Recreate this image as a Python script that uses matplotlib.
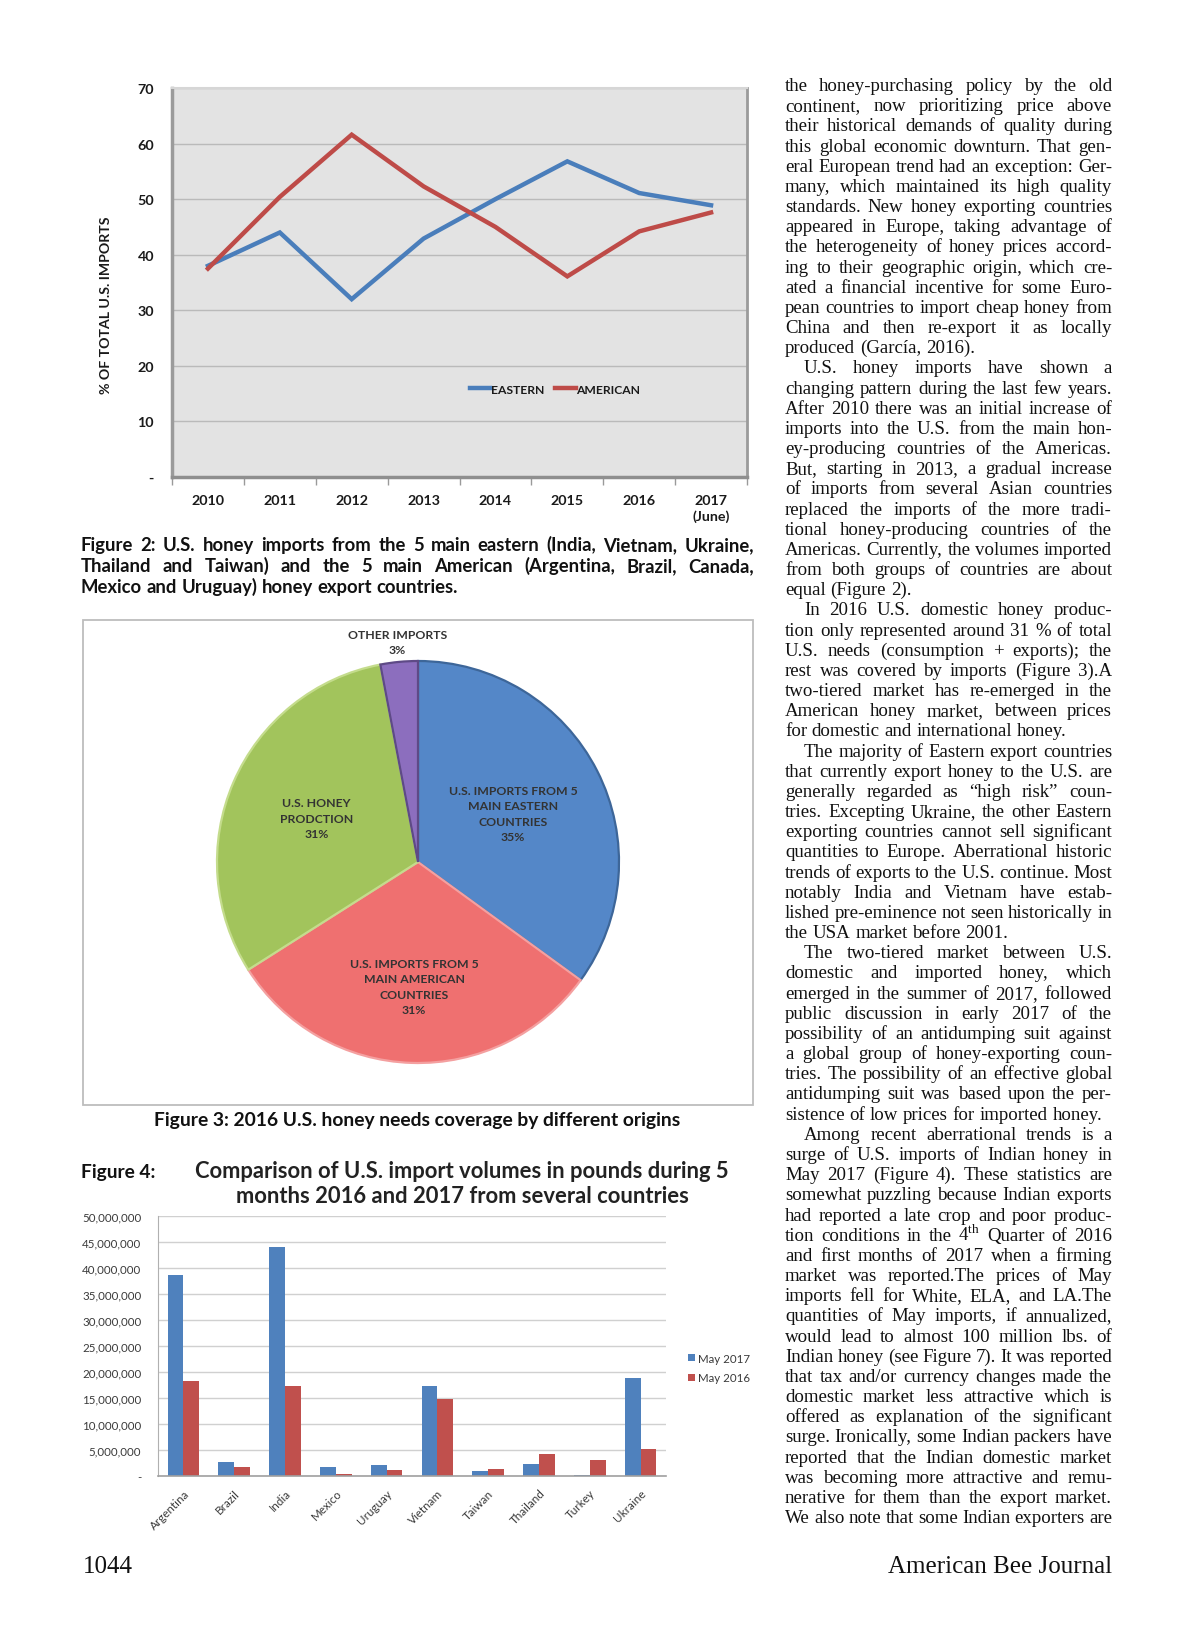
import matplotlib
matplotlib.use('Agg')
import matplotlib.pyplot as plt
from matplotlib.patches import Rectangle
from matplotlib.ticker import FixedLocator, FuncFormatter
import numpy as np

W, H = 1200, 1631

# ---- Figure 2 data (line chart) ----
years = ['2010', '2011', '2012', '2013', '2014', '2015', '2016', '2017\n(June)']
eastern = [38.0, 44.0, 32.0, 42.9, 50.0, 56.8, 51.1, 48.9]
american = [37.5, 50.4, 61.6, 52.3, 45.0, 36.1, 44.2, 47.6]
line_yticks = [0, 10, 20, 30, 40, 50, 60, 70]
line_yticklabels = ['-', '10', '20', '30', '40', '50', '60', '70']

# ---- Figure 3 data (pie) ----
pie_labels = ['U.S. IMPORTS FROM 5\nMAIN EASTERN\nCOUNTRIES',
              'U.S. IMPORTS FROM 5\nMAIN AMERICAN\nCOUNTRIES',
              'U.S. HONEY\nPRODCTION',
              'OTHER IMPORTS']
pie_shares = [35, 31, 31, 3]

# ---- Figure 4 data (bars) ----
countries = ['Argentina', 'Brazil', 'India', 'Mexico', 'Uruguay',
             'Vietnam', 'Taiwan', 'Thailand', 'Turkey', 'Ukraine']
may_2017 = [38.6e6, 2.7e6, 44.0e6, 1.8e6, 2.2e6, 17.4e6, 1.0e6, 2.4e6, 0.15e6, 18.8e6]
may_2016 = [18.2e6, 1.7e6, 17.4e6, 0.3e6, 1.2e6, 14.9e6, 1.3e6, 4.2e6, 3.0e6, 5.1e6]

caption2 = ["Figure 2: U.S. honey imports from the 5 main eastern (India, Vietnam, Ukraine,",
            "Thailand and Taiwan) and the 5 main American (Argentina, Brazil, Canada,",
            "Mexico and Uruguay) honey export countries."]

# (line, justified?, indented?)
column = [
    ("the honey-purchasing policy by the old", 1, 0),
    ("continent, now prioritizing price above", 1, 0),
    ("their historical demands of quality during", 1, 0),
    ("this global economic downturn. That gen-", 1, 0),
    ("eral European trend had an exception: Ger-", 1, 0),
    ("many, which maintained its high quality", 1, 0),
    ("standards. New honey exporting countries", 1, 0),
    ("appeared in Europe, taking advantage of", 1, 0),
    ("the heterogeneity of honey prices accord-", 1, 0),
    ("ing to their geographic origin, which cre-", 1, 0),
    ("ated a financial incentive for some Euro-", 1, 0),
    ("pean countries to import cheap honey from", 1, 0),
    ("China and then re-export it as locally", 1, 0),
    ("produced (García, 2016).", 0, 0),
    ("U.S. honey imports have shown a", 1, 1),
    ("changing pattern during the last few years.", 1, 0),
    ("After 2010 there was an initial increase of", 1, 0),
    ("imports into the U.S. from the main hon-", 1, 0),
    ("ey-producing countries of the Americas.", 1, 0),
    ("But, starting in 2013, a gradual increase", 1, 0),
    ("of imports from several Asian countries", 1, 0),
    ("replaced the imports of the more tradi-", 1, 0),
    ("tional honey-producing countries of the", 1, 0),
    ("Americas. Currently, the volumes imported", 1, 0),
    ("from both groups of countries are about", 1, 0),
    ("equal (Figure 2).", 0, 0),
    ("In 2016 U.S. domestic honey produc-", 1, 1),
    ("tion only represented around 31 % of total", 1, 0),
    ("U.S. needs (consumption + exports); the", 1, 0),
    ("rest was covered by imports (Figure 3).A", 1, 0),
    ("two-tiered market has re-emerged in the", 1, 0),
    ("American honey market, between prices", 1, 0),
    ("for domestic and international honey.", 0, 0),
    ("The majority of Eastern export countries", 1, 1),
    ("that currently export honey to the U.S. are", 1, 0),
    ("generally regarded as \u201chigh risk\u201d coun-", 1, 0),
    ("tries. Excepting Ukraine, the other Eastern", 1, 0),
    ("exporting countries cannot sell significant", 1, 0),
    ("quantities to Europe. Aberrational historic", 1, 0),
    ("trends of exports to the U.S. continue. Most", 1, 0),
    ("notably India and Vietnam have estab-", 1, 0),
    ("lished pre-eminence not seen historically in", 1, 0),
    ("the USA market before 2001.", 0, 0),
    ("The two-tiered market between U.S.", 1, 1),
    ("domestic and imported honey, which", 1, 0),
    ("emerged in the summer of 2017, followed", 1, 0),
    ("public discussion in early 2017 of the", 1, 0),
    ("possibility of an antidumping suit against", 1, 0),
    ("a global group of honey-exporting coun-", 1, 0),
    ("tries. The possibility of an effective global", 1, 0),
    ("antidumping suit was based upon the per-", 1, 0),
    ("sistence of low prices for imported honey.", 0, 0),
    ("Among recent aberrational trends is a", 1, 1),
    ("surge of U.S. imports of Indian honey in", 1, 0),
    ("May 2017 (Figure 4). These statistics are", 1, 0),
    ("somewhat puzzling because Indian exports", 1, 0),
    ("had reported a late crop and poor produc-", 1, 0),
    ("tion conditions in the 4$^{\\mathrm{th}}$ Quarter of 2016", 1, 0),
    ("and first months of 2017 when a firming", 1, 0),
    ("market was reported.The prices of May", 1, 0),
    ("imports fell for White, ELA, and LA.The", 1, 0),
    ("quantities of May imports, if annualized,", 1, 0),
    ("would lead to almost 100 million lbs. of", 1, 0),
    ("Indian honey (see Figure 7). It was reported", 1, 0),
    ("that tax and/or currency changes made the", 1, 0),
    ("domestic market less attractive which is", 1, 0),
    ("offered as explanation of the significant", 1, 0),
    ("surge. Ironically, some Indian packers have", 1, 0),
    ("reported that the Indian domestic market", 1, 0),
    ("was becoming more attractive and remu-", 1, 0),
    ("nerative for them than the export market.", 1, 0),
    ("We also note that some Indian exporters are", 1, 0),
]

SANS = ['Lato', 'DejaVu Sans']
SERIF = ['Liberation Serif', 'DejaVu Serif']
plt.rcParams['font.family'] = SANS
plt.rcParams['mathtext.fontset'] = 'custom'
plt.rcParams['mathtext.rm'] = 'Liberation Serif'


def fx(x):
    return x / W


def fy(y):
    return 1 - y / H


def box(l, t, r, b):
    return [l / W, 1 - b / H, (r - l) / W, (b - t) / H]


fig = plt.figure(figsize=(W / 100, H / 100), dpi=100)
fig.patch.set_facecolor('white')
renderer = fig.canvas.get_renderer()


def put_line(text, x0, x1, ybase, justify, **kw):
    words = text.split(' ')
    arts = [fig.text(0, fy(ybase), w, ha='left', va='baseline', **kw) for w in words]
    ws = [a.get_window_extent(renderer).width for a in arts]
    if justify and len(words) > 1:
        gap = (x1 - x0 - sum(ws)) / (len(words) - 1)
    else:
        t1 = fig.text(0, 0, 'a a', **kw)
        t2 = fig.text(0, 0, 'aa', **kw)
        gap = t1.get_window_extent(renderer).width - t2.get_window_extent(renderer).width
        t1.remove()
        t2.remove()
    x = x0
    for a, w in zip(arts, ws):
        a.set_x(fx(x))
        x += w + gap


# ================= Figure 2: line chart =================
ax1 = fig.add_axes(box(172, 89, 747, 478))
ax1.set_facecolor('#e3e3e3')
xpos = np.arange(len(years))
ax1.plot(xpos, eastern, color='#4a7ebb', lw=3.2, label='EASTERN', solid_joinstyle='miter')
ax1.plot(xpos, american, color='#be4b48', lw=3.2, label='AMERICAN', solid_joinstyle='miter')
ax1.set_xlim(-0.5, len(years) - 0.5)
ax1.set_ylim(0, 70)
ax1.set_yticks(line_yticks)
ax1.set_yticklabels(line_yticklabels)
ax1.set_xticks(xpos)
ax1.set_xticklabels(years, linespacing=1.35)
ax1.xaxis.set_minor_locator(FixedLocator(np.arange(-0.5, len(years), 1.0)))
ax1.tick_params(axis='x', which='major', length=0, pad=12, labelsize=10.3)
ax1.tick_params(axis='x', which='minor', length=6, color='#9a9a9a', width=1)
ax1.tick_params(axis='y', length=0, pad=13, labelsize=10.3)
for lab in ax1.get_xticklabels() + ax1.get_yticklabels():
    lab.set_fontweight('bold')
    lab.set_color('#1a1a1a')
ax1.grid(axis='y', color='#bababa', lw=1)
ax1.set_axisbelow(True)
ax1.spines['left'].set_color('#9b9b9b')
ax1.spines['left'].set_linewidth(2.5)
ax1.spines['bottom'].set_color('#8f8f8f')
ax1.spines['bottom'].set_linewidth(2.5)
ax1.spines['right'].set_color('#9b9b9b')
ax1.spines['right'].set_linewidth(2)
ax1.spines['top'].set_color('#d6d6d6')
ax1.spines['top'].set_linewidth(1.5)
fig.text(fx(106), fy(305), '% OF TOTAL U.S. IMPORTS', rotation=90, ha='center', va='center',
         fontsize=10.2, fontweight='bold', color='#1a1a1a')
leg1 = ax1.legend(ncol=2, loc='center', bbox_to_anchor=(fx(555), fy(390)),
                  bbox_transform=fig.transFigure, frameon=False, handlelength=1.7,
                  handletextpad=0.05, columnspacing=0.9, prop={'weight': 'bold', 'size': 8.7})
for t in leg1.get_texts():
    t.set_color('#1a1a1a')

# caption for Figure 2
for i, line in enumerate(caption2):
    put_line(line, 81, 754, 551 + 21 * i, i < 2, fontsize=13.3, fontweight='bold',
             color='#111111', family=SANS)

# ================= Figure 3: pie =================
fig.add_artist(Rectangle((fx(83), fy(1106)), (753 - 83) / W, (1106 - 621) / H,
                         transform=fig.transFigure, fill=False, edgecolor='#bdbdbd', lw=1.3))
ax2 = fig.add_axes(box(217, 662, 619, 1064))
pie_colors = ['#5487c8', '#ef7070', '#a2c45c', '#8c6ebe']
pie_edges = ['#3d6699', '#f4a0a0', '#c4dc8c', '#5e4a86']
wedges, _ = ax2.pie(pie_shares, colors=pie_colors, startangle=90, counterclock=False,
                    radius=1.0, wedgeprops={'linewidth': 1.6})
for w, ec in zip(wedges, pie_edges):
    w.set_edgecolor(ec)
ax2.set_xlim(-1, 1)
ax2.set_ylim(-1, 1)
ax2.set_aspect('equal')
ax2.axis('off')
label_r = [0.53, 0.62, 0.55, 1.10]
for w, lab, share, r in zip(wedges, pie_labels, pie_shares, label_r):
    ang = np.deg2rad((w.theta1 + w.theta2) / 2)
    ax2.text(r * np.cos(ang), r * np.sin(ang), f'{lab}\n{share}%', ha='center', va='center',
             fontsize=8.8, fontweight='bold', color='#333333', linespacing=1.5, clip_on=False)

fig.text(fx(417), fy(1121), 'Figure 3: 2016 U.S. honey needs coverage by different origins',
         ha='center', va='center', fontsize=13.9, fontweight='bold', color='#111111')

# ================= Figure 4: bars =================
fig.text(fx(81), fy(1173), 'Figure 4:', ha='left', va='center', fontsize=13.8,
         fontweight='bold', color='#111111')
fig.text(fx(462), fy(1184), 'Comparison of U.S. import volumes in pounds during 5\n'
         'months 2016 and 2017 from several countries', ha='center', va='center',
         fontsize=15.8, fontweight='bold', color='#222222', linespacing=1.2)

ax3 = fig.add_axes(box(158, 1217, 666, 1477))
cx = np.arange(len(countries))
bw = 0.31
ax3.bar(cx - bw / 2, may_2017, bw, color='#4f81bd', label='May 2017')
ax3.bar(cx + bw / 2, may_2016, bw, color='#c0504d', label='May 2016')
ax3.set_xlim(-0.5, len(countries) - 0.5)
ax3.set_ylim(0, 50e6)
ax3.set_yticks(np.arange(0, 50e6 + 1, 5e6))
ax3.yaxis.set_major_formatter(FuncFormatter(lambda v, p: '-' if v == 0 else f'{v:,.0f}'))
ax3.set_xticks(cx)
ax3.set_xticklabels(countries, rotation=45, ha='right', va='top', rotation_mode='anchor')
ax3.tick_params(axis='y', length=0, pad=12, labelsize=8.3, labelcolor='#3a3a3a')
ax3.tick_params(axis='x', length=0, pad=8, labelsize=8.4, labelcolor='#3a3a3a')
ax3.grid(axis='y', color='#d0d0d0', lw=1)
ax3.set_axisbelow(True)
for s in ['top', 'right']:
    ax3.spines[s].set_visible(False)
ax3.spines['left'].set_color('#b0b0b0')
ax3.spines['bottom'].set_color('#a0a0a0')
ax3.spines['bottom'].set_linewidth(1.2)
leg3 = ax3.legend(loc='center left', bbox_to_anchor=(fx(678), fy(1369)),
                  bbox_transform=fig.transFigure, frameon=False, handlelength=0.55,
                  handleheight=0.55, handletextpad=0.25, labelspacing=0.75,
                  prop={'size': 8.3})
for t in leg3.get_texts():
    t.set_color('#3a3a3a')

# ================= right text column =================
col_x0, col_x1 = 785, 1112
for i, (line, just, ind) in enumerate(column):
    put_line(line, col_x0 + (19 if ind else 0), col_x1, 91 + 20.17 * i, bool(just),
             fontsize=13.6, color='#111111', family=SERIF)

# footer
fig.text(fx(83), fy(1573), '1044', ha='left', va='baseline', fontsize=18,
         family=SERIF, color='#111111')
fig.text(fx(1112), fy(1573), 'American Bee Journal', ha='right', va='baseline', fontsize=18,
         family=SERIF, color='#111111')

fig.savefig('out.png', dpi=100, facecolor='white')
